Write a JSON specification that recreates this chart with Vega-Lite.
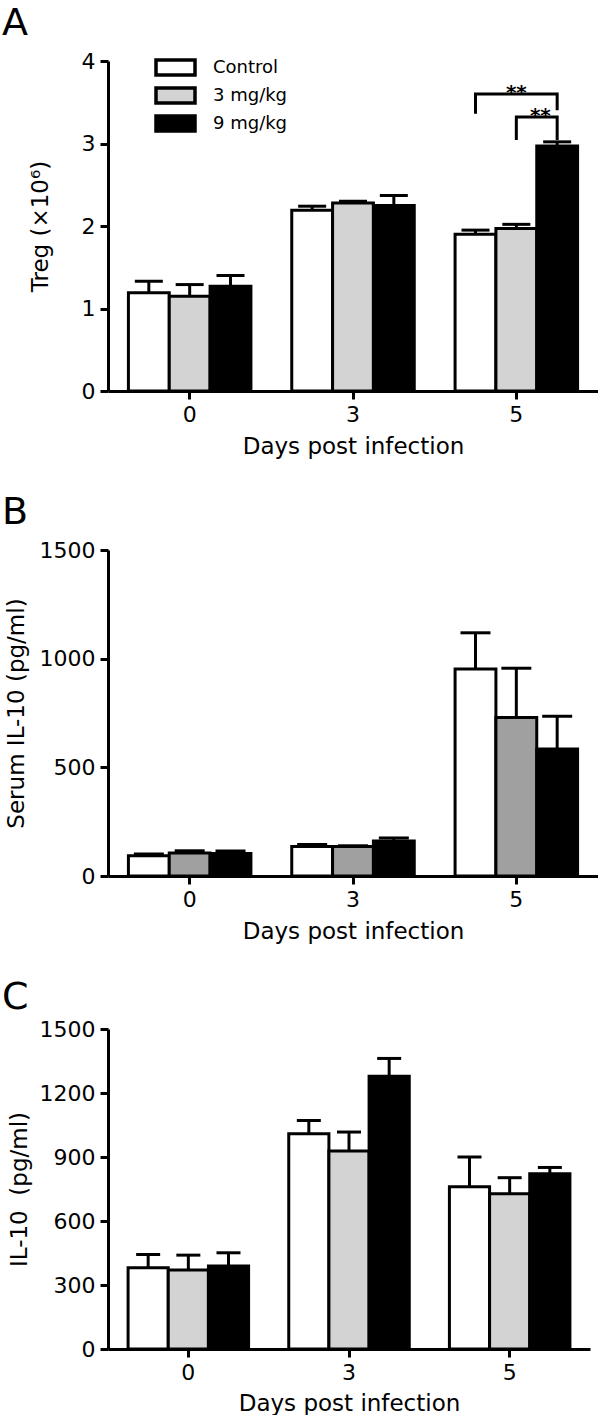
{
  "$schema": "https://vega.github.io/schema/vega-lite/v6.json",
  "padding": {"left": 2, "top": 5, "right": 0, "bottom": 0},
  "background": "white",
  "config": {
    "font": "DejaVu Sans",
    "view": {"stroke": null},
    "axis": {"domainColor": "black", "domainWidth": 3, "tickColor": "black", "tickWidth": 3, "tickSize": 8, "labelFont": "DejaVu Sans", "labelFontSize": 22, "labelColor": "black", "titleFont": "DejaVu Sans", "titleFontSize": 23, "titleFontWeight": "normal", "titleColor": "black", "grid": false, "labelPadding": 5},
    "title": {"font": "DejaVu Sans", "fontSize": 38, "fontWeight": "normal", "anchor": "start", "frame": "group", "color": "black", "baseline": "alphabetic"},
    "concat": {"spacing": 36}
  },
  "datasets": {
    "a": [
      {"day": "0", "group": "Control", "mean": 1.19, "upper": 1.33},
      {"day": "0", "group": "3 mg/kg", "mean": 1.15, "upper": 1.29},
      {"day": "0", "group": "9 mg/kg", "mean": 1.27, "upper": 1.40},
      {"day": "3", "group": "Control", "mean": 2.19, "upper": 2.24},
      {"day": "3", "group": "3 mg/kg", "mean": 2.28, "upper": 2.30},
      {"day": "3", "group": "9 mg/kg", "mean": 2.25, "upper": 2.37},
      {"day": "5", "group": "Control", "mean": 1.90, "upper": 1.95},
      {"day": "5", "group": "3 mg/kg", "mean": 1.97, "upper": 2.02},
      {"day": "5", "group": "9 mg/kg", "mean": 2.97, "upper": 3.02}
    ],
    "b": [
      {"day": "0", "group": "Control", "mean": 93, "upper": 101},
      {"day": "0", "group": "3 mg/kg", "mean": 106, "upper": 116},
      {"day": "0", "group": "9 mg/kg", "mean": 104, "upper": 115},
      {"day": "3", "group": "Control", "mean": 136, "upper": 145},
      {"day": "3", "group": "3 mg/kg", "mean": 136, "upper": 139},
      {"day": "3", "group": "9 mg/kg", "mean": 161, "upper": 175},
      {"day": "5", "group": "Control", "mean": 953, "upper": 1119},
      {"day": "5", "group": "3 mg/kg", "mean": 729, "upper": 956},
      {"day": "5", "group": "9 mg/kg", "mean": 584, "upper": 735}
    ],
    "c": [
      {"day": "0", "group": "Control", "mean": 381, "upper": 443},
      {"day": "0", "group": "3 mg/kg", "mean": 370, "upper": 440},
      {"day": "0", "group": "9 mg/kg", "mean": 389, "upper": 451},
      {"day": "3", "group": "Control", "mean": 1009, "upper": 1071},
      {"day": "3", "group": "3 mg/kg", "mean": 928, "upper": 1017},
      {"day": "3", "group": "9 mg/kg", "mean": 1278, "upper": 1362},
      {"day": "5", "group": "Control", "mean": 761, "upper": 900},
      {"day": "5", "group": "3 mg/kg", "mean": 728, "upper": 803},
      {"day": "5", "group": "9 mg/kg", "mean": 821, "upper": 851}
    ],
    "sig": [
      {"day": "5", "group": "Control", "y": 3.38, "bracket": "b1", "ord": 1},
      {"day": "5", "group": "Control", "y": 3.60, "bracket": "b1", "ord": 2},
      {"day": "5", "group": "9 mg/kg", "y": 3.60, "bracket": "b1", "ord": 3},
      {"day": "5", "group": "9 mg/kg", "y": 3.42, "bracket": "b1", "ord": 4},
      {"day": "5", "group": "3 mg/kg", "y": 3.06, "bracket": "b2", "ord": 1},
      {"day": "5", "group": "3 mg/kg", "y": 3.32, "bracket": "b2", "ord": 2},
      {"day": "5", "group": "9 mg/kg", "y": 3.32, "bracket": "b2", "ord": 3},
      {"day": "5", "group": "9 mg/kg", "y": 3.06, "bracket": "b2", "ord": 4}
    ],
    "stars": [
      {"day": "5", "group": "3 mg/kg", "y": 3.60, "label": "**", "bracket": "b1"},
      {"day": "5", "group": "3 mg/kg", "y": 3.32, "label": "**", "bracket": "b2"}
    ]
  },
  "vconcat": [
    {
      "width": 490,
      "height": 330,
      "title": {"text": "A", "dx": -106, "offset": 7},
      "layer": [
        {
          "data": {"name": "a"},
          "mark": {"type": "bar", "stroke": "black", "strokeWidth": 3},
          "encoding": {
            "x": {"field": "day", "type": "nominal", "sort": ["0", "3", "5"], "scale": {"paddingInner": 0.25, "paddingOuter": 0.125}, "axis": {"labelAngle": 0, "title": "Days post infection", "titlePadding": 10}},
            "xOffset": {"field": "group", "type": "nominal", "sort": ["Control", "3 mg/kg", "9 mg/kg"], "scale": {"paddingInner": 0, "paddingOuter": 0}},
            "y": {"field": "mean", "type": "quantitative", "scale": {"domain": [0, 4], "nice": false}, "axis": {"values": [0, 1, 2, 3, 4], "format": "d", "title": "Treg (×10⁶)", "titlePadding": 29}},
            "fill": {"field": "group", "type": "nominal", "sort": ["Control", "3 mg/kg", "9 mg/kg"], "scale": {"range": ["white", "#d3d3d3", "black"]},
              "legend": {"orient": "none", "legendX": 46, "legendY": -3, "title": null, "symbolType": "M-1,-1H4.2V1H-1Z", "symbolSize": 225, "symbolStrokeColor": "black", "symbolStrokeWidth": 3.5, "symbolOpacity": 1, "labelFontSize": 18, "labelFont": "DejaVu Sans", "labelColor": "black", "labelOffset": 40, "rowPadding": -1, "padding": 0}}
          }
        },
        {
          "data": {"name": "a"},
          "mark": {"type": "rule", "strokeWidth": 3, "color": "black"},
          "encoding": {
            "x": {"field": "day", "type": "nominal", "sort": ["0", "3", "5"]},
            "xOffset": {"field": "group", "type": "nominal", "sort": ["Control", "3 mg/kg", "9 mg/kg"]},
            "y": {"field": "mean", "type": "quantitative"},
            "y2": {"field": "upper"}
          }
        },
        {
          "data": {"name": "a"},
          "mark": {"type": "tick", "thickness": 3, "size": 28, "color": "black", "orient": "horizontal", "opacity": 1},
          "encoding": {
            "x": {"field": "day", "type": "nominal", "sort": ["0", "3", "5"]},
            "xOffset": {"field": "group", "type": "nominal", "sort": ["Control", "3 mg/kg", "9 mg/kg"]},
            "y": {"field": "upper", "type": "quantitative"}
          }
        },
        {
          "data": {"name": "sig"},
          "mark": {"type": "line", "strokeWidth": 3, "color": "black", "strokeCap": "square"},
          "encoding": {
            "x": {"field": "day", "type": "nominal", "sort": ["0", "3", "5"]},
            "xOffset": {"field": "group", "type": "nominal", "sort": ["Control", "3 mg/kg", "9 mg/kg"]},
            "y": {"field": "y", "type": "quantitative"},
            "detail": {"field": "bracket"},
            "order": {"field": "ord"}
          }
        },
        {
          "data": {"name": "stars"},
          "transform": [{"filter": "datum.bracket === 'b1'"}],
          "mark": {"type": "text", "fontSize": 20, "fontWeight": "bold", "baseline": "alphabetic", "dy": 5, "color": "black"},
          "encoding": {
            "x": {"field": "day", "type": "nominal", "sort": ["0", "3", "5"]},
            "xOffset": {"field": "group", "type": "nominal", "sort": ["Control", "3 mg/kg", "9 mg/kg"]},
            "y": {"field": "y", "type": "quantitative"},
            "text": {"field": "label"}
          }
        },
        {
          "data": {"name": "stars"},
          "transform": [{"filter": "datum.bracket === 'b2'"}],
          "mark": {"type": "text", "fontSize": 20, "fontWeight": "bold", "baseline": "alphabetic", "dy": 5, "dx": 24, "color": "black"},
          "encoding": {
            "x": {"field": "day", "type": "nominal", "sort": ["0", "3", "5"]},
            "xOffset": {"field": "group", "type": "nominal", "sort": ["Control", "3 mg/kg", "9 mg/kg"]},
            "y": {"field": "y", "type": "quantitative"},
            "text": {"field": "label"}
          }
        }
      ]
    },
    {
      "width": 490,
      "height": 326,
      "title": {"text": "B", "dx": -106, "offset": 7},
      "data": {"name": "b"},
      "layer": [
        {
          "mark": {"type": "bar", "stroke": "black", "strokeWidth": 3},
          "encoding": {
            "x": {"field": "day", "type": "nominal", "sort": ["0", "3", "5"], "scale": {"paddingInner": 0.25, "paddingOuter": 0.125}, "axis": {"labelAngle": 0, "title": "Days post infection", "titlePadding": 10}},
            "xOffset": {"field": "group", "type": "nominal", "sort": ["Control", "3 mg/kg", "9 mg/kg"], "scale": {"paddingInner": 0, "paddingOuter": 0}},
            "y": {"field": "mean", "type": "quantitative", "scale": {"domain": [0, 1500], "nice": false}, "axis": {"values": [0, 500, 1000, 1500], "format": "d", "title": "Serum IL-10 (pg/ml)", "titlePadding": 11}},
            "fill": {"field": "group", "type": "nominal", "sort": ["Control", "3 mg/kg", "9 mg/kg"], "scale": {"range": ["white", "#a0a0a0", "black"]}, "legend": null}
          }
        },
        {
          "mark": {"type": "rule", "strokeWidth": 3, "color": "black"},
          "encoding": {
            "x": {"field": "day", "type": "nominal", "sort": ["0", "3", "5"]},
            "xOffset": {"field": "group", "type": "nominal", "sort": ["Control", "3 mg/kg", "9 mg/kg"]},
            "y": {"field": "mean", "type": "quantitative"},
            "y2": {"field": "upper"}
          }
        },
        {
          "mark": {"type": "tick", "thickness": 3, "size": 30, "color": "black", "orient": "horizontal", "opacity": 1},
          "encoding": {
            "x": {"field": "day", "type": "nominal", "sort": ["0", "3", "5"]},
            "xOffset": {"field": "group", "type": "nominal", "sort": ["Control", "3 mg/kg", "9 mg/kg"]},
            "y": {"field": "upper", "type": "quantitative"}
          }
        }
      ]
    },
    {
      "width": 482,
      "height": 320,
      "title": {"text": "C", "dx": -106, "offset": 1},
      "data": {"name": "c"},
      "layer": [
        {
          "mark": {"type": "bar", "stroke": "black", "strokeWidth": 3},
          "encoding": {
            "x": {"field": "day", "type": "nominal", "sort": ["0", "3", "5"], "scale": {"paddingInner": 0.25, "paddingOuter": 0.125}, "axis": {"labelAngle": 0, "title": "Days post infection", "titlePadding": 9}},
            "xOffset": {"field": "group", "type": "nominal", "sort": ["Control", "3 mg/kg", "9 mg/kg"], "scale": {"paddingInner": 0, "paddingOuter": 0}},
            "y": {"field": "mean", "type": "quantitative", "scale": {"domain": [0, 1500], "nice": false}, "axis": {"values": [0, 300, 600, 900, 1200, 1500], "format": "d", "title": "IL-10\u00a0 (pg/ml)", "titlePadding": 8}},
            "fill": {"field": "group", "type": "nominal", "sort": ["Control", "3 mg/kg", "9 mg/kg"], "scale": {"range": ["white", "#d3d3d3", "black"]}, "legend": null}
          }
        },
        {
          "mark": {"type": "rule", "strokeWidth": 3, "color": "black"},
          "encoding": {
            "x": {"field": "day", "type": "nominal", "sort": ["0", "3", "5"]},
            "xOffset": {"field": "group", "type": "nominal", "sort": ["Control", "3 mg/kg", "9 mg/kg"]},
            "y": {"field": "mean", "type": "quantitative"},
            "y2": {"field": "upper"}
          }
        },
        {
          "mark": {"type": "tick", "thickness": 3, "size": 24, "color": "black", "orient": "horizontal", "opacity": 1},
          "encoding": {
            "x": {"field": "day", "type": "nominal", "sort": ["0", "3", "5"]},
            "xOffset": {"field": "group", "type": "nominal", "sort": ["Control", "3 mg/kg", "9 mg/kg"]},
            "y": {"field": "upper", "type": "quantitative"}
          }
        }
      ]
    }
  ],
  "resolve": {"scale": {"x": "independent", "y": "independent", "fill": "independent", "xOffset": "independent"}}
}
